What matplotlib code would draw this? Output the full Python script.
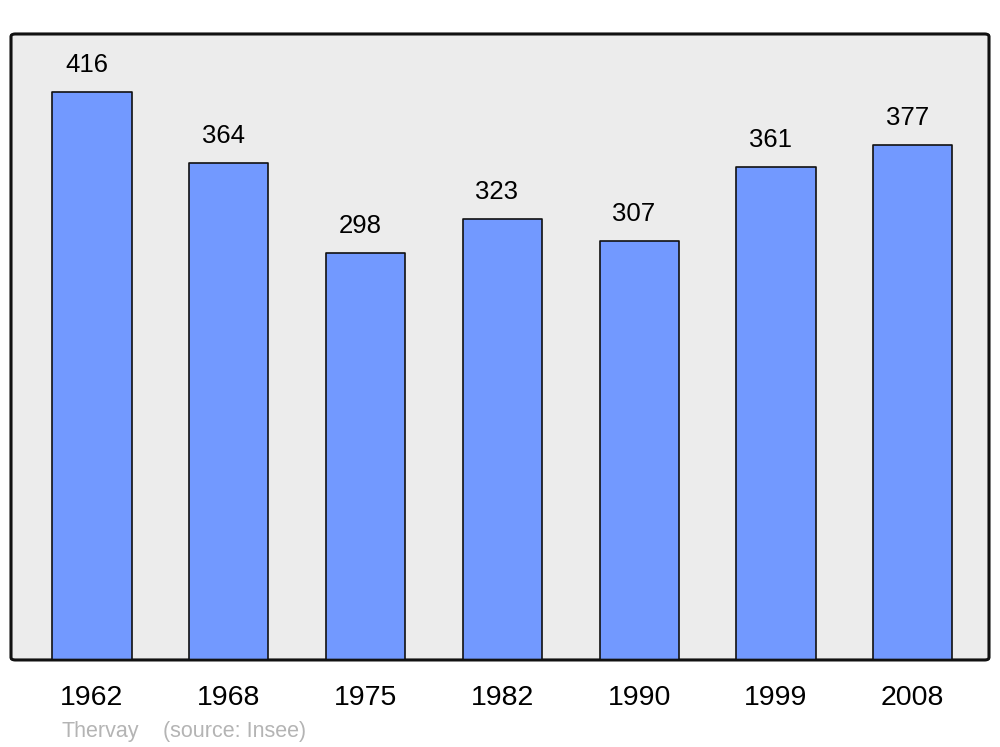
import matplotlib
matplotlib.use("Agg")
import matplotlib.pyplot as plt
from matplotlib.patches import FancyBboxPatch

years = ["1962", "1968", "1975", "1982", "1990", "1999", "2008"]
population = [416, 364, 298, 323, 307, 361, 377]
commune = "Thervay"
source = "(source: Insee)"

plt.rcParams['font.family'] = ['Liberation Sans', 'DejaVu Sans']

fig = plt.figure(figsize=(10, 7.47), dpi=100)
ax = fig.add_axes([0.011, 0.1165, 0.978, 0.838])
ax.set_xlim(-0.592, 6.557)
ax.set_ylim(0, 458.6)

# background with rounded frame
bg = FancyBboxPatch((0, 0), 1, 1, boxstyle="round,pad=0,rounding_size=0.004",
                    transform=ax.transAxes, facecolor="#ececec", edgecolor="#111111",
                    linewidth=1.9, zorder=0, clip_on=False)
ax.add_patch(bg)
ax.patch.set_visible(False)
for s in ax.spines.values():
    s.set_visible(False)

x = list(range(len(years)))
bars = ax.bar(x, population, width=0.578, color="#7299ff", edgecolor="#111111",
              linewidth=1.2, zorder=2)
for b in bars:
    b.set_joinstyle('round')

for xi, v in zip(x, population):
    ax.annotate(str(v), (xi, v), xytext=(-4, 14.5), textcoords="offset points",
                ha="center", va="baseline", fontsize=18.5, color="#000000", zorder=3)

# redraw frame line over bar bottoms
frame = FancyBboxPatch((0, 0), 1, 1, boxstyle="round,pad=0,rounding_size=0.004",
                       transform=ax.transAxes, facecolor="none", edgecolor="#111111",
                       linewidth=1.9, zorder=4, clip_on=False)
ax.add_patch(frame)

ax.set_xticks(x)
ax.set_xticklabels(years, fontsize=20.5)
ax.tick_params(axis='x', length=0, pad=18)
ax.set_yticks([])

fig.text(0.061, 0.0135, commune, fontsize=15.5, color="#b4b4b4", ha="left", va="baseline")
fig.text(0.163, 0.0135, source, fontsize=15.5, color="#b4b4b4", ha="left", va="baseline")

fig.savefig("out.png", dpi=100)
